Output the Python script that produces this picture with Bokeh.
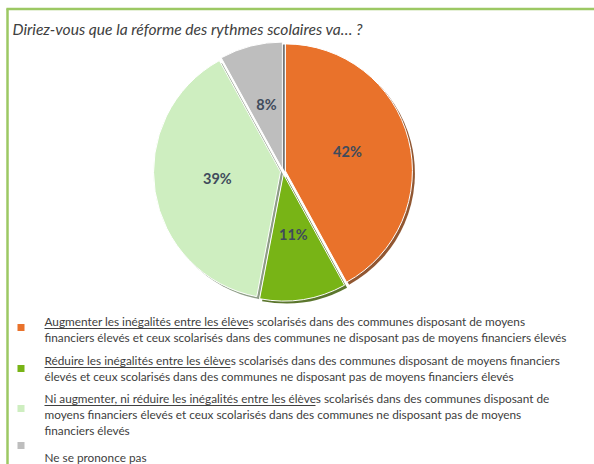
import math
from bokeh.plotting import figure
from bokeh.models import Range1d, ColumnDataSource
from bokeh.core.properties import value
from bokeh.embed import file_html
from bokeh.resources import INLINE

# ---- data ----
categories = [
    "Augmenter les inégalités",
    "Réduire les inégalités",
    "Ni augmenter, ni réduire",
    "Ne se prononce pas",
]
shares = [42, 11, 39, 8]
colors = ["#E9722B", "#78B416", "#CEEEC0", "#BEBEBE"]
shadow_colors = ["#7E3A0E", "#3E5E08", "#7A8C72", "#5C5C5C"]
label_texts = ["42%", "11%", "39%", "8%"]

title_text = "Diriez-vous que la réforme des rythmes scolaires va… ?"
legend_lines = [
    ["Augmenter les inégalités entre les élèves scolarisés dans des communes disposant de moyens",
     "financiers élevés et ceux scolarisés dans des communes ne disposant pas de moyens financiers élevés"],
    ["Réduire les inégalités entre les élèves scolarisés dans des communes disposant de moyens financiers",
     "élevés et ceux scolarisés dans des communes ne disposant pas de moyens financiers élevés"],
    ["Ni augmenter, ni réduire les inégalités entre les élèves scolarisés dans des communes disposant de",
     "moyens financiers élevés et ceux scolarisés dans des communes ne disposant pas de moyens",
     "financiers élevés"],
    ["Ne se prononce pas"],
]
underlined = [
    "Augmenter les inégalités entre les élèves",
    "Réduire les inégalités entre les élèves",
    "Ni augmenter, ni réduire les inégalités entre les élèves",
    "",
]

W, H = 594, 464
def Y(y):
    return H - y

p = figure(width=W, height=H, output_backend="svg", toolbar_location=None,
           x_range=Range1d(0, W), y_range=Range1d(0, H), min_border=0)
p.axis.visible = False
p.grid.visible = False
p.outline_line_color = None
p.background_fill_color = "white"

# frame
p.line([6, W], [Y(8.5), Y(8.5)], line_color="#9CC863", line_width=2.5)
p.line([7, 7], [Y(8), 0], line_color="#9CC863", line_width=2.5)

# title
p.text(x=[12], y=[Y(28)], text=[title_text], text_font=value("Lato"),
       text_font_style="italic", text_font_size="15.6px", text_color="#404040",
       text_baseline="middle", text_align="left")

# pie
cx, cy, R = 282.5, Y(171), 127
explode = 2.5
total = float(sum(shares))
starts, ends, xs, ys, lx, ly = [], [], [], [], [], []
a = math.pi / 2
for v in shares:
    span = 2 * math.pi * v / total
    s_ang, e_ang = a - span, a
    mid = (s_ang + e_ang) / 2
    ox = cx + explode * math.cos(mid)
    oy = cy + explode * math.sin(mid)
    starts.append(s_ang); ends.append(e_ang)
    xs.append(ox); ys.append(oy)
    lx.append(ox + 64 * math.cos(mid)); ly.append(oy + 64 * math.sin(mid) + 3)
    a = s_ang

src = ColumnDataSource(dict(x=xs, y=ys, sx=[v + 2.5 for v in xs], sy=[v - 2.5 for v in ys],
                            start=starts, end=ends, color=colors, shadow=shadow_colors,
                            lx=lx, ly=ly, label=label_texts, cat=categories))
p.wedge(x="sx", y="sy", radius=R, start_angle="start", end_angle="end",
        fill_color="shadow", line_color=None, fill_alpha=0.85, source=src)
p.wedge(x="x", y="y", radius=R, start_angle="start", end_angle="end",
        fill_color="color", line_color="white", line_width=1, source=src)
p.text(x="lx", y="ly", text="label", source=src, text_font=value("Lato"),
       text_font_style="bold", text_font_size="14.5px", text_color="#404B5C",
       text_align="center", text_baseline="middle")

# legend
first_line_y = [321, 360, 398, 457]
square_y = [327, 368, 408, 445]
underline_end = [248, 230, 315, 0]
line_gap = 16
for i, lines in enumerate(legend_lines):
    p.scatter([20.5], [Y(square_y[i])], marker="square", size=7,
              fill_color=colors[i], line_color=None)
    ys_l = [Y(first_line_y[i] + k * line_gap) for k in range(len(lines))]
    p.text(x=[44] * len(lines), y=ys_l, text=lines, text_font=value("Lato"),
           text_font_size="11.8px", text_color="#404040",
           text_baseline="middle", text_align="left")
    if underlined[i]:
        p.line([44, underline_end[i]], [Y(first_line_y[i] + 7)] * 2,
               line_color="#404040", line_width=1)

open("out.html", "w").write(file_html(p, INLINE))
